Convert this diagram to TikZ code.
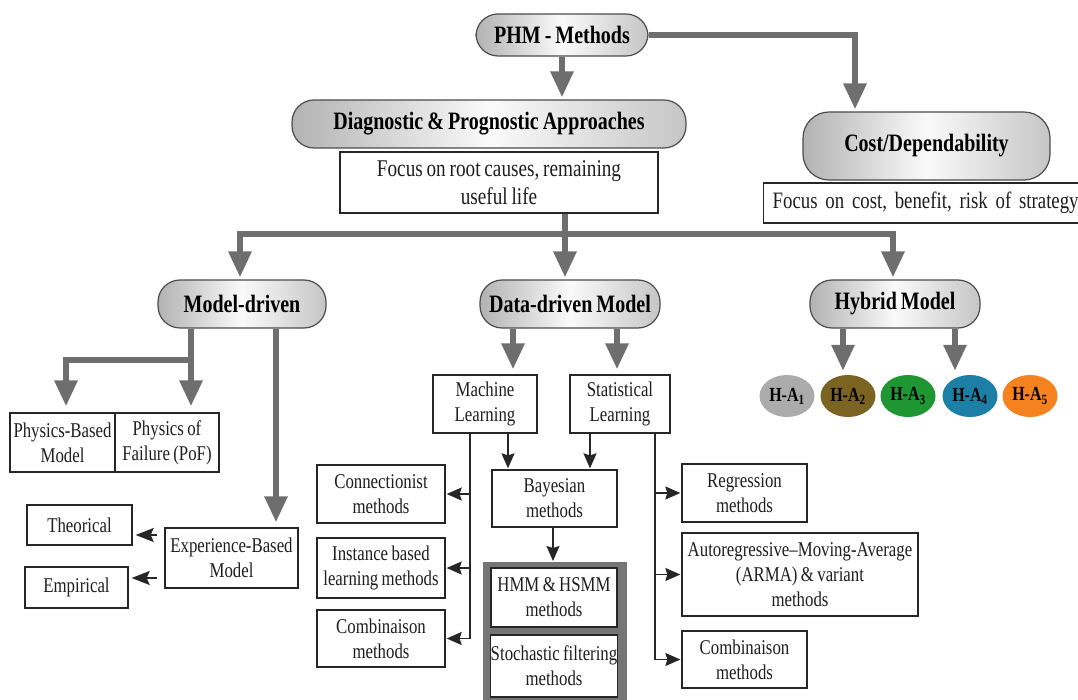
\documentclass[tikz,border=0pt]{standalone}
\usepackage{fontspec}
\setmainfont{Liberation Serif}[FakeStretch=0.8,WordSpace=0.8]
\usetikzlibrary{arrows.meta,shapes.geometric,calc}
\definecolor{arr}{HTML}{6E6E6E}
\definecolor{frm}{HTML}{757575}
\definecolor{txt}{HTML}{1E1E1E}
\definecolor{hagray}{HTML}{ABABAB}
\definecolor{haolive}{HTML}{7B6322}
\definecolor{hagreen}{HTML}{1E9632}
\definecolor{hablue}{HTML}{1C80A6}
\definecolor{haorange}{HTML}{F5821F}
\newcommand\fhead{\bfseries\fontsize{25}{30}\selectfont}
\newcommand\fbig{\fontsize{24}{28.5}\selectfont}
\newcommand\fsm{\fontsize{21}{25}\selectfont}
\newcommand\fell{\bfseries\fontsize{20}{22}\selectfont}
\begin{document}
\begin{tikzpicture}[x=1pt,y=-1pt,
  pill/.style={draw=black!70, line width=1.2pt, rounded corners=22pt,
    left color=gray!60, right color=gray!45, middle color=gray!4,
    font=\fhead, text=black, inner sep=0pt},
  box/.style={draw=black!85, line width=1.3pt, fill=white, align=center,
    inner sep=0pt, font=\fsm, text=txt},
  ell/.style={ellipse, inner sep=0pt, minimum width=55, minimum height=42, font=\fell, text=black},
  garrow/.style={arr, line width=6pt, -{Triangle[length=26pt,width=22pt]}},
  gline/.style={arr, line width=6pt},
  barrow/.style={black!85, line width=1.6pt, -{Stealth[length=15pt,width=13pt,inset=2pt]}},
  bigbarrow/.style={black!85, line width=1.8pt, -{Stealth[length=18pt,width=14pt,inset=3pt]}},
  bline/.style={black!85, line width=1.5pt}]
\useasboundingbox (0,0) rectangle (1078,700);

% top level
\node[pill, minimum width=172, minimum height=42] (phm) at (562,35) {PHM - Methods};
\node[pill, minimum width=394, minimum height=48] (diag) at (489,124) {Diagnostic \& Prognostic Approaches};
\node[box, font=\fbig, minimum width=318, minimum height=61] (focus) at (499,182.5) {Focus on root causes, remaining\\useful life};
\node[pill, minimum width=247, minimum height=68, rounded corners=26pt] (cost) at (926.5,146) {Cost/Dependability};
\node[box, font=\fontsize{23.5}{27}\selectfont, anchor=west, text width=320, minimum height=40, inner xsep=9pt, align=left] (costfocus) at (763,203) {Focus on cost, benefit, risk of strategy};

\draw[garrow, shorten >=2pt] (phm.south) -- (phm.south |- diag.north);
\draw[garrow, shorten >=2pt] (phm.east) -| ([xshift=-71.5]cost.north);

% second level
\node[pill, minimum width=168, minimum height=48] (model) at (242,304) {Model-driven};
\node[pill, minimum width=180, minimum height=48] (data) at (570,304) {Data-driven Model};
\node[pill, minimum width=170, minimum height=48] (hybrid) at (895,304) {Hybrid Model};

\coordinate (j) at (565,234);
\draw[gline] (focus.south -| j) -- (j);
\draw[garrow, shorten >=2pt] (j) -| ([xshift=-2]model.north);
\draw[garrow, shorten >=2pt] (j) -| ([xshift=-2]hybrid.north);
\draw[garrow, shorten >=2pt] (j) -- (j |- data.north);

% model-driven branch
\node[box, minimum width=105, minimum height=59] (pbm) at (62.5,442.5) {Physics-Based\\Model};
\node[box, minimum width=104, minimum height=59] (pof) at (167,442.5) {Physics of\\Failure (PoF)};
\node[box, minimum width=133, minimum height=60] (exp) at (231.5,558) {Experience-Based\\Model};
\node[box, minimum width=105, minimum height=40] (theo) at (79.5,525) {Theorical};
\node[box, minimum width=103, minimum height=41] (emp) at (76.5,587.5) {Empirical};

\coordinate (mb) at (191,360);
\draw[gline] (model.south -| mb) -- (mb);
\draw[garrow, shorten >=6pt] (mb) -- (mb |- pof.north);
\draw[garrow, shorten >=6pt] (mb) -| ([xshift=3.5]pbm.north);
\draw[garrow, shorten >=5pt] ([xshift=44.5]exp.north |- model.south) -- ([xshift=44.5]exp.north);
\draw[bigbarrow, shorten >=3pt] ([xshift=-7pt]exp.west |- 0,535) -- (theo.east |- 0,535);
\draw[bigbarrow, shorten >=3pt] ([xshift=-7pt]exp.west |- 0,578) -- (emp.east |- 0,578);

% data-driven branch
\node[box, minimum width=104, minimum height=58] (ml) at (485,404) {Machine\\Learning};
\node[box, minimum width=100, minimum height=58] (sl) at (620,404) {Statistical\\Learning};
\draw[garrow, shorten >=5pt] (data.south -| 513,0) -- (ml.north -| 513,0);
\draw[garrow, shorten >=5pt] (data.south -| 617,0) -- (sl.north -| 617,0);

\node[box, minimum width=125, minimum height=57] (bay) at (554.5,498.5) {Bayesian\\methods};
\draw[barrow, shorten >=1pt] (ml.south -| 508,0) -- (bay.north -| 508,0);
\draw[barrow, shorten >=1pt] (sl.south -| 590,0) -- (bay.north -| 590,0);

\node[box, minimum width=128, minimum height=58] (con) at (381,494) {Connectionist\\methods};
\node[box, minimum width=128, minimum height=60] (inst) at (381,568) {Instance based\\learning methods};
\node[box, minimum width=128, minimum height=57] (comb1) at (381,638.5) {Combinaison\\methods};
\coordinate (mlb) at (470,0);
\draw[bline] (ml.south -| mlb) -- (comb1.east -| mlb);
\draw[barrow, shorten >=1pt] (con.east -| mlb) -- (con.east);
\draw[barrow, shorten >=1pt] (inst.east -| mlb) -- (inst.east);
\draw[barrow, shorten >=1pt] (comb1.east -| mlb) -- (comb1.east);

\node[box, minimum width=125, minimum height=58] (reg) at (744.5,493) {Regression\\methods};
\node[box, minimum width=236, minimum height=83] (arma) at (800,574.5) {Autoregressive--Moving-Average\\(ARMA) \& variant\\methods};
\node[box, minimum width=125, minimum height=57] (comb2) at (744.5,659.5) {Combinaison\\methods};
\coordinate (slb) at (655,0);
\draw[bline] (sl.south -| slb) -- (comb2.west -| slb);
\draw[barrow, shorten >=1pt] (reg.west -| slb) -- (reg.west);
\draw[barrow, shorten >=1pt] (arma.west -| slb) -- (arma.west);
\draw[barrow, shorten >=1pt] (comb2.west -| slb) -- (comb2.west);

\node[fill=frm, minimum width=144, minimum height=150, inner sep=0pt, anchor=north west] (frame) at (483,562) {};
\node[box, minimum width=126, minimum height=59] (hmm) at (554,597.5) {HMM \& HSMM\\methods};
\node[box, minimum width=126, minimum height=62] (stoch) at (554,666) {Stochastic filtering\\methods};
\draw[barrow, shorten >=1pt] (bay.south -| 553,0) -- (frame.north -| 553,0);

% hybrid branch
\node[ell, fill=hagray] (ha1) at (787,396) {H-A\textsubscript{1}};
\node[ell, fill=haolive] (ha2) at (848,396) {H-A\textsubscript{2}};
\node[ell, fill=hagreen] (ha3) at (908,396) {H-A\textsubscript{3}};
\node[ell, fill=hablue] (ha4) at (970,396) {H-A\textsubscript{4}};
\node[ell, fill=haorange] (ha5) at (1030,396) {H-A\textsubscript{5}};
\draw[garrow, shorten >=4pt] (hybrid.south -| 843,0) -- (ha2.north -| 843,0);
\draw[garrow, shorten >=4pt] (hybrid.south -| 955,0) -- (ha4.north -| 955,0);
\end{tikzpicture}
\end{document}
